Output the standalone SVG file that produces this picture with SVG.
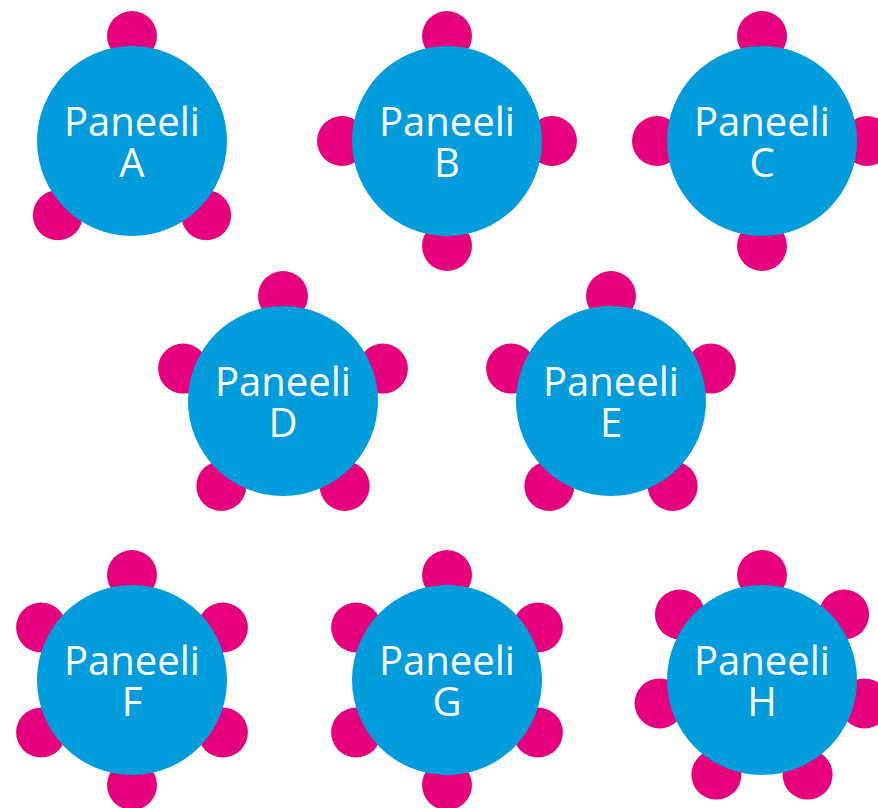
<svg xmlns="http://www.w3.org/2000/svg" width="878" height="808" viewBox="0 0 878 808">
<style>
.seat{fill:#e6007e}
.table{fill:#009cdc}
.lbl{font-family:"Open Sans","Noto Sans","Liberation Sans",sans-serif;font-size:40px;fill:#ffffff;text-anchor:middle}
</style>
<rect width="878" height="808" fill="#ffffff"/>
<g id="connectors"/>
<g id="paneeli-a">
<circle class="seat" cx="132" cy="36" r="25"/>
<circle class="seat" cx="206.2" cy="215.2" r="25"/>
<circle class="seat" cx="57.8" cy="215.2" r="25"/>
<circle class="table" cx="132" cy="141" r="95"/>
<text class="lbl" x="132" y="136">Paneeli<tspan x="132" dy="41">A</tspan></text>
</g>
<g id="paneeli-b">
<circle class="seat" cx="447" cy="36" r="25"/>
<circle class="seat" cx="552" cy="141" r="25"/>
<circle class="seat" cx="447" cy="246" r="25"/>
<circle class="seat" cx="342" cy="141" r="25"/>
<circle class="table" cx="447" cy="141" r="95"/>
<text class="lbl" x="447" y="136">Paneeli<tspan x="447" dy="41">B</tspan></text>
</g>
<g id="paneeli-c">
<circle class="seat" cx="762" cy="36" r="25"/>
<circle class="seat" cx="867" cy="141" r="25"/>
<circle class="seat" cx="762" cy="246" r="25"/>
<circle class="seat" cx="657" cy="141" r="25"/>
<circle class="table" cx="762" cy="141" r="95"/>
<text class="lbl" x="762" y="136">Paneeli<tspan x="762" dy="41">C</tspan></text>
</g>
<g id="paneeli-d">
<circle class="seat" cx="283" cy="296" r="25"/>
<circle class="seat" cx="382.9" cy="368.6" r="25"/>
<circle class="seat" cx="344.7" cy="486" r="25"/>
<circle class="seat" cx="221.3" cy="486" r="25"/>
<circle class="seat" cx="183.1" cy="368.6" r="25"/>
<circle class="table" cx="283" cy="401" r="95"/>
<text class="lbl" x="283" y="396">Paneeli<tspan x="283" dy="41">D</tspan></text>
</g>
<g id="paneeli-e">
<circle class="seat" cx="611" cy="296" r="25"/>
<circle class="seat" cx="710.9" cy="368.6" r="25"/>
<circle class="seat" cx="672.7" cy="486" r="25"/>
<circle class="seat" cx="549.3" cy="486" r="25"/>
<circle class="seat" cx="511.1" cy="368.6" r="25"/>
<circle class="table" cx="611" cy="401" r="95"/>
<text class="lbl" x="611" y="396">Paneeli<tspan x="611" dy="41">E</tspan></text>
</g>
<g id="paneeli-f">
<circle class="seat" cx="132" cy="575" r="25"/>
<circle class="seat" cx="222.9" cy="627.5" r="25"/>
<circle class="seat" cx="222.9" cy="732.5" r="25"/>
<circle class="seat" cx="132" cy="785" r="25"/>
<circle class="seat" cx="41.1" cy="732.5" r="25"/>
<circle class="seat" cx="41.1" cy="627.5" r="25"/>
<circle class="table" cx="132" cy="680" r="95"/>
<text class="lbl" x="132" y="675">Paneeli<tspan x="132" dy="41">F</tspan></text>
</g>
<g id="paneeli-g">
<circle class="seat" cx="447" cy="575" r="25"/>
<circle class="seat" cx="537.9" cy="627.5" r="25"/>
<circle class="seat" cx="537.9" cy="732.5" r="25"/>
<circle class="seat" cx="447" cy="785" r="25"/>
<circle class="seat" cx="356.1" cy="732.5" r="25"/>
<circle class="seat" cx="356.1" cy="627.5" r="25"/>
<circle class="table" cx="447" cy="680" r="95"/>
<text class="lbl" x="447" y="675">Paneeli<tspan x="447" dy="41">G</tspan></text>
</g>
<g id="paneeli-h">
<circle class="seat" cx="762" cy="575" r="25"/>
<circle class="seat" cx="844.1" cy="614.5" r="25"/>
<circle class="seat" cx="864.4" cy="703.4" r="25"/>
<circle class="seat" cx="807.6" cy="774.6" r="25"/>
<circle class="seat" cx="716.4" cy="774.6" r="25"/>
<circle class="seat" cx="659.6" cy="703.4" r="25"/>
<circle class="seat" cx="679.9" cy="614.5" r="25"/>
<circle class="table" cx="762" cy="680" r="95"/>
<text class="lbl" x="762" y="675">Paneeli<tspan x="762" dy="41">H</tspan></text>
</g>
</svg>
